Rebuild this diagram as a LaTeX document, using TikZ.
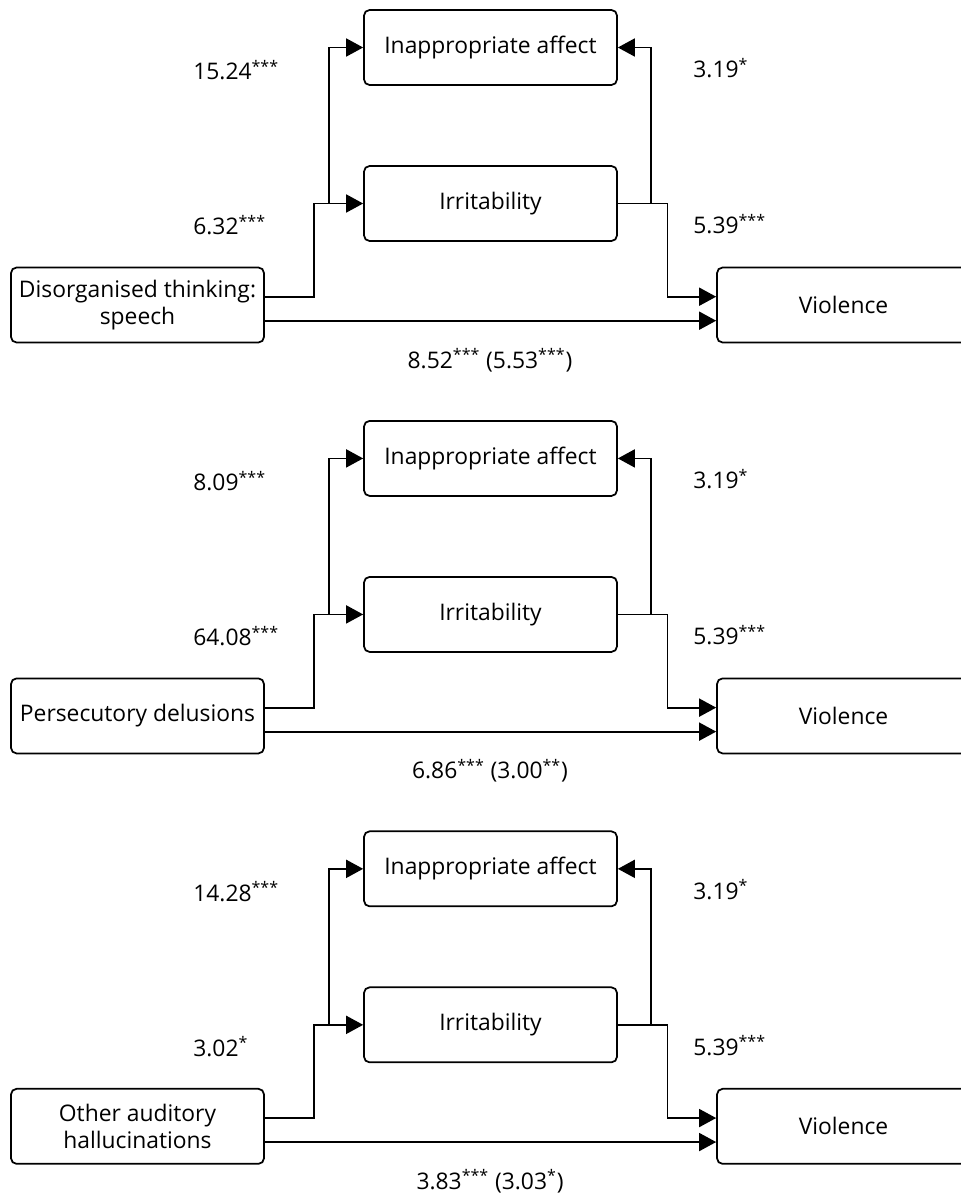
\documentclass[tikz,border=0pt]{standalone}
\usepackage{fontspec}
\setmainfont{Open Sans}
\usetikzlibrary{arrows.meta,calc}

\tikzset{
  box/.style = {draw, rounded corners=0.11cm, line width=0.035cm, minimum width=5.06cm,
                minimum height=1.5cm, align=center, inner sep=0pt},
  link/.style = {line width=0.035cm, -{Triangle[length=0.34cm,width=0.36cm]}},
  coef/.style = {anchor=base west, inner sep=0pt},
  mid/.style = {anchor=base, inner sep=0pt},
}

\begin{document}
\begin{tikzpicture}[x=0.02cm, y=0.02cm, font=\fontsize{13}{15.6}\selectfont]
    \useasboundingbox (0,0) rectangle (960,-1196);
    % disorganised thinking
    \begin{scope}
        \node[box] (ia1) at (490.5,-47.5) {Inappropriate affect};
        \node[box] (irr1) at (490.5,-203.5) {Irritability};
        \node[box] (src1) at (137.5,-305) {Disorganised thinking:\\speech};
        \node[box] (vio1) at (843.5,-305) {Violence};
        \draw[link] ($(src1.east)+(0,8.3)$) -- ++(49.3,0) |- (irr1.west);
        \draw[link] ($(irr1.west)+(-34,0)$) |- (ia1.west);
        \draw[link] (irr1.east) -- ++(49.7,0) |- ($(vio1.west)+(0,8.3)$);
        \draw[link] ($(irr1.east)+(33,0)$) |- (ia1.east);
        \draw[link] ($(src1.east)+(0,-15.7)$) -- ($(vio1.west)+(0,-15.7)$);
        \node[coef] (a1) at (193,-80) {15.24\textsuperscript{***}};
        \node[coef] (b1) at (193,-235) {6.32\textsuperscript{***}};
        \node[coef] (c1) at (693,-78) {3.19\textsuperscript{*}};
        \node[coef] (d1) at (693,-234) {5.39\textsuperscript{***}};
        \node[mid] (e1) at (490,-368) {8.52\textsuperscript{***} (5.53\textsuperscript{***})};
    \end{scope}
    % persecutory delusions
    \begin{scope}[yshift=-8.22cm]
        \node[box] (ia2) at (490.5,-47.5) {Inappropriate affect};
        \node[box] (irr2) at (490.5,-203.5) {Irritability};
        \node[box] (src2) at (137.5,-305) {Persecutory delusions};
        \node[box] (vio2) at (843.5,-305) {Violence};
        \draw[link] ($(src2.east)+(0,8.3)$) -- ++(49.3,0) |- (irr2.west);
        \draw[link] ($(irr2.west)+(-34,0)$) |- (ia2.west);
        \draw[link] (irr2.east) -- ++(49.7,0) |- ($(vio2.west)+(0,8.3)$);
        \draw[link] ($(irr2.east)+(33,0)$) |- (ia2.east);
        \draw[link] ($(src2.east)+(0,-15.7)$) -- ($(vio2.west)+(0,-15.7)$);
        \node[coef] (a2) at (193,-80) {8.09\textsuperscript{***}};
        \node[coef] (b2) at (193,-235) {64.08\textsuperscript{***}};
        \node[coef] (c2) at (693,-78) {3.19\textsuperscript{*}};
        \node[coef] (d2) at (693,-234) {5.39\textsuperscript{***}};
        \node[mid] (e2) at (490,-368) {6.86\textsuperscript{***} (3.00\textsuperscript{**})};
    \end{scope}
    % other auditory hallucinations
    \begin{scope}[yshift=-16.43cm]
        \node[box] (ia3) at (490.5,-47.5) {Inappropriate affect};
        \node[box] (irr3) at (490.5,-203.5) {Irritability};
        \node[box] (src3) at (137.5,-305) {Other auditory\\hallucinations};
        \node[box] (vio3) at (843.5,-305) {Violence};
        \draw[link] ($(src3.east)+(0,8.3)$) -- ++(49.3,0) |- (irr3.west);
        \draw[link] ($(irr3.west)+(-34,0)$) |- (ia3.west);
        \draw[link] (irr3.east) -- ++(49.7,0) |- ($(vio3.west)+(0,8.3)$);
        \draw[link] ($(irr3.east)+(33,0)$) |- (ia3.east);
        \draw[link] ($(src3.east)+(0,-15.7)$) -- ($(vio3.west)+(0,-15.7)$);
        \node[coef] (a3) at (193,-80) {14.28\textsuperscript{***}};
        \node[coef] (b3) at (193,-235) {3.02\textsuperscript{*}};
        \node[coef] (c3) at (693,-78) {3.19\textsuperscript{*}};
        \node[coef] (d3) at (693,-234) {5.39\textsuperscript{***}};
        \node[mid] (e3) at (490,-368) {3.83\textsuperscript{***} (3.03\textsuperscript{*})};
    \end{scope}
\end{tikzpicture}
\end{document}
